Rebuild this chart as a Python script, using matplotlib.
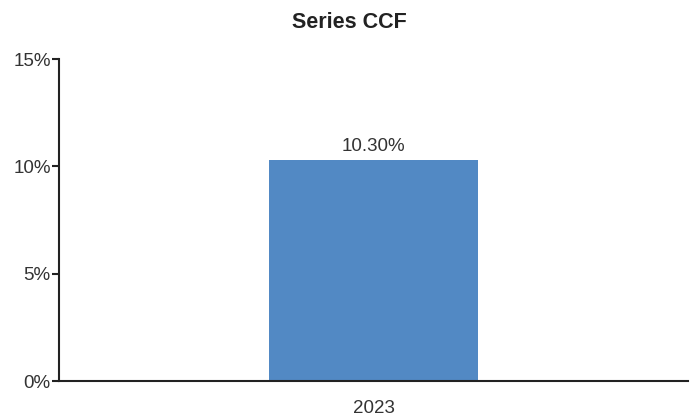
import matplotlib
matplotlib.use("Agg")
import matplotlib.pyplot as plt
from matplotlib.ticker import FuncFormatter

# data
categories = ["2023"]
values = [10.30]
yticks = [0, 5, 10, 15]
title = "Series CCF"

plt.rcParams["font.family"] = ["Liberation Sans", "DejaVu Sans"]

fig = plt.figure(figsize=(6.96, 4.19), dpi=100)
ax = fig.add_axes([59 / 696, 1 - 381 / 419, (688 - 59) / 696, (381 - 59) / 419])

xs = list(range(len(categories)))
bars = ax.bar(xs, values, width=1 / 3, color="#5289c4", zorder=2)

for x, v in zip(xs, values):
    ax.text(x, v + 0.25, f"{v:.2f}%", ha="center", va="bottom",
            fontsize=13.5, color="#333333")

ax.set_xlim(-0.5, 0.5)
ax.set_ylim(0, 15)
ax.set_yticks(yticks)
ax.yaxis.set_major_formatter(FuncFormatter(lambda v, p: f"{v:.0f}%"))
ax.set_xticks(xs)
ax.set_xticklabels(categories)

for s in ["top", "right"]:
    ax.spines[s].set_visible(False)
for s in ["left", "bottom"]:
    ax.spines[s].set_color("#222222")
    ax.spines[s].set_linewidth(1.5)

ax.tick_params(axis="y", length=5, width=1.5, color="#222222",
               labelsize=13.5, labelcolor="#333333", pad=1)
ax.tick_params(axis="x", length=0, labelsize=13.5, labelcolor="#333333", pad=14)

fig.text(349 / 696, 1 - 23 / 419, title, ha="center", va="center",
         fontsize=15.5, fontweight="bold", color="#222222",
         family=["Liberation Sans Narrow", "Liberation Sans", "DejaVu Sans"])

fig.savefig("out.png", dpi=100)
